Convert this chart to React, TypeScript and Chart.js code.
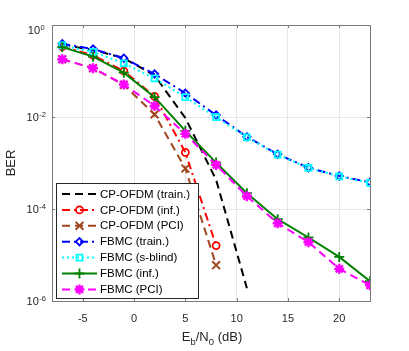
import React, { useEffect, useRef } from 'react';
import { Chart, registerables } from 'chart.js';
import { drawPoint } from 'chart.js/helpers';

Chart.register(...registerables);

// ---- data ----
const snrOfdmTrain = [-7, -4, -1, 2, 5, 8, 11];
const snrOfdm = [-7, -4, -1, 2, 5, 8];
const snrFbmc = [-7, -4, -1, 2, 5, 8, 11, 14, 17, 20, 23];

const berOfdmTrain = [0.37, 0.29, 0.19, 0.08, 0.0095, 4.3e-4, 1.9e-6];
const berOfdmInf = [0.34, 0.22, 0.1, 0.028, 0.0017, 1.6e-5];
const berOfdmPci = [0.18, 0.115, 0.05, 0.0114, 7.6e-4, 6.0e-6];
const berFbmcTrain = [0.39, 0.3, 0.19, 0.086, 0.033, 0.011, 0.0037, 0.00155, 0.00079, 0.00052, 0.00038];
const berFbmcSblind = [0.36, 0.26, 0.147, 0.069, 0.027, 0.0099, 0.0036, 0.00152, 0.00078, 0.00051, 0.00037];
const berFbmcInf = [0.33, 0.205, 0.092, 0.027, 0.005, 0.00102, 2.2e-4, 6.0e-5, 2.4e-5, 9.1e-6, 2.7e-6];
const berFbmcPci = [0.18, 0.115, 0.051, 0.0174, 0.0043, 9.1e-4, 1.9e-4, 4.9e-5, 1.9e-5, 5.0e-6, 2.2e-6];

const seriesLabels = [
  'CP-OFDM (train.)',
  'CP-OFDM (inf.)',
  'CP-OFDM (PCI)',
  'FBMC (train.)',
  'FBMC (s-blind)',
  'FBMC (inf.)',
  'FBMC (PCI)',
];

const xTicks = [-5, 0, 5, 10, 15, 20];
const yTickExps = [0, -2, -4, -6];

const FONT = '"Liberation Sans", Arial, sans-serif';
const TEXT = '#262626';

const DASH = [8, 5];
const DASHDOT = [8, 4, 2, 4];
const DOT = [2, 3];

function mk(label: string, xs: number[], ys: number[], color: string, dash: number[], pointStyle: any, radius: number, bw: number, order: number) {
  return {
    label,
    data: xs.map((x, i) => ({ x, y: ys[i] })),
    borderColor: color,
    borderWidth: 2,
    borderDash: dash,
    pointStyle,
    pointRadius: radius,
    pointBorderColor: color,
    pointBackgroundColor: 'rgba(0,0,0,0)',
    pointBorderWidth: bw,
    fill: false,
    tension: 0,
    order,
  };
}

const decoPlugin = {
  id: 'deco',
  afterDraw(chart: any) {
    const ctx = chart.ctx;
    const { left, right, top, bottom } = chart.chartArea;
    const xs = chart.scales.x;
    const ys = chart.scales.y;
    ctx.save();
    // box
    ctx.strokeStyle = '#7a7a7a';
    ctx.lineWidth = 1;
    ctx.setLineDash([]);
    ctx.strokeRect(Math.round(left) + 0.5, Math.round(top) + 0.5, Math.round(right - left), Math.round(bottom - top));
    // tick marks
    const tl = 3;
    ctx.beginPath();
    xTicks.forEach((v) => {
      const px = Math.round(xs.getPixelForValue(v)) + 0.5;
      ctx.moveTo(px, bottom);
      ctx.lineTo(px, bottom - tl);
      ctx.moveTo(px, top);
      ctx.lineTo(px, top + tl);
    });
    yTickExps.forEach((e) => {
      const py = Math.round(ys.getPixelForValue(Math.pow(10, e))) + 0.5;
      ctx.moveTo(left, py);
      ctx.lineTo(left + tl, py);
      ctx.moveTo(right, py);
      ctx.lineTo(right - tl, py);
    });
    ctx.stroke();

    // x tick labels
    ctx.fillStyle = TEXT;
    ctx.font = `11px ${FONT}`;
    ctx.textAlign = 'center';
    ctx.textBaseline = 'alphabetic';
    xTicks.forEach((v) => {
      ctx.fillText(String(v), xs.getPixelForValue(v), bottom + 21);
    });

    // y tick labels 10^e
    yTickExps.forEach((e) => {
      const py = ys.getPixelForValue(Math.pow(10, e));
      ctx.font = `11px ${FONT}`;
      const w1 = ctx.measureText('10').width;
      ctx.font = `7.5px ${FONT}`;
      const sup = String(e);
      const w2 = ctx.measureText(sup).width;
      const cx = 36;
      const x0 = cx - (w1 + w2) / 2;
      const base = Math.max(py + 4, top + 9);
      ctx.textAlign = 'left';
      ctx.font = `11px ${FONT}`;
      ctx.fillText('10', x0, base);
      ctx.font = `7.5px ${FONT}`;
      ctx.fillText(sup, x0 + w1 + 0.5, base - 4);
    });

    // x axis title: E_b/N_0 (dB)
    const parts: [string, boolean][] = [['E', false], ['b', true], ['/N', false], ['0', true], [' (dB)', false]];
    let tw = 0;
    parts.forEach(([t, s]) => {
      ctx.font = s ? `9.5px ${FONT}` : `13px ${FONT}`;
      tw += ctx.measureText(t).width;
    });
    let xx = (left + right) / 2 - tw / 2 + 1;
    const by = 341;
    parts.forEach(([t, s]) => {
      ctx.font = s ? `9.5px ${FONT}` : `13px ${FONT}`;
      ctx.fillText(t, xx, s ? by + 4 : by);
      xx += ctx.measureText(t).width;
    });

    // y axis title
    ctx.save();
    ctx.translate(15, (top + bottom) / 2);
    ctx.rotate(-Math.PI / 2);
    ctx.textAlign = 'center';
    ctx.font = `13px ${FONT}`;
    ctx.fillText('BER', 0, 0);
    ctx.restore();

    // legend
    const lx = 56, ly = 183, lw = 142, lh = 115;
    ctx.fillStyle = '#ffffff';
    ctx.fillRect(lx, ly, lw, lh);
    ctx.strokeStyle = '#262626';
    ctx.lineWidth = 1;
    ctx.strokeRect(lx + 0.5, ly + 0.5, lw, lh);
    chart.data.datasets.forEach((d: any, i: number) => {
      const ry = 194 + i * 15.9;
      ctx.strokeStyle = d.borderColor;
      ctx.lineWidth = d.borderWidth;
      ctx.setLineDash(d.borderDash || []);
      ctx.beginPath();
      ctx.moveTo(62, ry);
      ctx.lineTo(97, ry);
      ctx.stroke();
      ctx.setLineDash([]);
      if (d.pointRadius > 0) {
        ctx.strokeStyle = d.pointBorderColor;
        ctx.fillStyle = d.pointBackgroundColor;
        ctx.lineWidth = d.pointBorderWidth;
        drawPoint(ctx, { pointStyle: d.pointStyle, rotation: 0, radius: d.pointRadius, borderWidth: d.pointBorderWidth }, 79.5, ry);
      }
      ctx.fillStyle = '#000000';
      ctx.font = `11.5px ${FONT}`;
      ctx.textAlign = 'left';
      ctx.textBaseline = 'middle';
      ctx.fillText(d.label, 100, ry + 0.5);
    });
    ctx.restore();
  },
};

export default function App() {
  const ref = useRef<HTMLCanvasElement | null>(null);
  useEffect(() => {
    document.body.style.margin = '0';
    const canvas = ref.current!;
    const chart = new Chart(canvas, {
      type: 'line',
      data: {
        datasets: [
          mk(seriesLabels[0], snrOfdmTrain, berOfdmTrain, '#000000', DASH, 'circle', 0, 1.8, 6),
          mk(seriesLabels[1], snrOfdm, berOfdmInf, '#ff0000', DASHDOT, 'circle', 3.5, 1.8, 5),
          mk(seriesLabels[2], snrOfdm, berOfdmPci, '#a0461e', DASH, 'crossRot', 5.5, 2, 4),
          mk(seriesLabels[3], snrFbmc, berFbmcTrain, '#0000ff', DASHDOT, 'rectRot', 3.7, 1.8, 3),
          mk(seriesLabels[4], snrFbmc, berFbmcSblind, '#00ffff', DOT, 'rect', 4.2, 1.8, 2),
          mk(seriesLabels[5], snrFbmc, berFbmcInf, '#008000', [], 'cross', 5, 1.8, 1),
          mk(seriesLabels[6], snrFbmc, berFbmcPci, '#ff00ff', DASH, 'star', 5, 2.4, 0),
        ],
      },
      options: {
        animation: false,
        responsive: false,
        devicePixelRatio: 1,
        layout: { padding: { left: 52, top: 25, right: 39, bottom: 50 } },
        plugins: { legend: { display: false }, tooltip: { enabled: false } },
        scales: {
          x: {
            type: 'linear',
            min: -8,
            max: 23,
            afterBuildTicks: (s: any) => { s.ticks = xTicks.map((v) => ({ value: v })); },
            afterFit: (s: any) => { s.height = 0; },
            ticks: { display: false },
            grid: { color: '#e6e6e6', lineWidth: 1, drawTicks: false },
            border: { display: false },
          },
          y: {
            type: 'logarithmic',
            min: 1e-6,
            max: 1,
            afterBuildTicks: (s: any) => { s.ticks = yTickExps.map((e) => ({ value: Math.pow(10, e) })); },
            afterFit: (s: any) => { s.width = 0; },
            ticks: { display: false },
            grid: { color: '#e6e6e6', lineWidth: 1, drawTicks: false },
            border: { display: false },
          },
        },
      } as any,
      plugins: [decoPlugin],
    });
    return () => chart.destroy();
  }, []);
  return (
    <div style={{ width: 409, height: 351, background: '#fff' }}>
      <canvas ref={ref} width={409} height={351} style={{ display: 'block' }} />
    </div>
  );
}
